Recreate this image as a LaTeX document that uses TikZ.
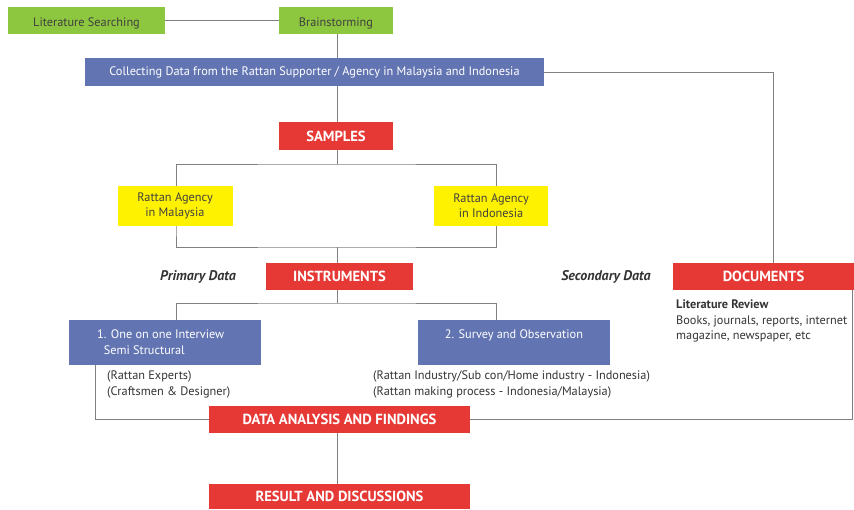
\documentclass[tikz,border=0pt]{standalone}
\usepackage{fontspec}
\setmainfont{PT Sans}
\usepackage{tikz}
\usetikzlibrary{positioning,backgrounds}
\definecolor{boxgreen}{RGB}{141,198,63}
\definecolor{boxblue}{RGB}{98,117,178}
\definecolor{boxred}{RGB}{230,57,53}
\definecolor{boxyellow}{RGB}{255,242,0}
\definecolor{linegray}{RGB}{128,128,128}

\begin{document}
\begin{tikzpicture}[x=1pt,y=-1pt,font=\fontsize{12.3}{15.3}\selectfont,
  green box/.style={fill=boxgreen,text=black!75,inner sep=0pt,text height=2.4ex,text depth=0.2ex},
  blue box/.style={fill=boxblue,text=white,inner sep=0pt},
  red box/.style={fill=boxred,text=white,font=\fontsize{14.6}{16}\selectfont\bfseries,inner sep=0pt},
  yellow box/.style={fill=boxyellow,text=black!75,inner sep=0pt,align=center},
  note/.style={text=black!80,align=left,inner sep=0pt},
  side label/.style={font=\fontsize{14}{16}\selectfont\bfseries\itshape,text=black!80},
  conn/.style={draw=linegray,line width=0.9pt}]
\useasboundingbox (0,0) rectangle (854,509);

% top row
  \node[green box,minimum width=157,minimum height=27] (litsearch) at (86.5,20.5) {Literature Searching};
  \node[green box,minimum width=114,minimum height=27] (brainstorm) at (336,20.5) {Brainstorming};
  \node[blue box,minimum width=459,minimum height=28] (collect) at (314.5,72) {Collecting Data from the Rattan Supporter / Agency in Malaysia and Indonesia};

% samples
  \node[red box,minimum width=114,minimum height=28] (samples) at (336,136) {SAMPLES};
  \node[yellow box,minimum width=115,minimum height=40] (malaysia) at (175,206) {Rattan Agency\\in Malaysia};
  \node[yellow box,minimum width=114,minimum height=40] (indonesia) at (491,206) {Rattan Agency\\in Indonesia};

% instruments and documents
  \node[red box,minimum width=147,minimum height=27] (instruments) at (339.5,276.5) {INSTRUMENTS};
  \node[red box,minimum width=181,minimum height=27] (documents) at (763.5,276.5) {DOCUMENTS};
  \node[side label] (primary) at (198,277) {Primary Data};
  \node[side label] (secondary) at (606,277) {Secondary Data};

% methods
  \node[blue box,minimum width=192,minimum height=45] (interview) at (165,342.5) {};
  \node[blue box,anchor=north west,align=left] (interviewtext) at (97,330) {1. One on one Interview\\\ \ Semi Structural};
  \node[blue box,minimum width=192,minimum height=45] (survey) at (514,342.5) {};
  \node[blue box,anchor=north] (surveytext) at (514,330) {2. Survey and Observation};
  \node[note,anchor=north west] (expertnote) at (107,371) {(Rattan Experts)\\(Craftsmen \& Designer)};
  \node[note,anchor=north west] (surveynote) at (373,371) {(Rattan Industry/Sub con/Home industry - Indonesia)\\(Rattan making process - Indonesia/Malaysia)};
  \node[note,anchor=north west] (litreview) at (676,300) {\textbf{Literature Review}\\Books, journals, reports, internet\\magazine, newspaper, etc};

% analysis
  \node[red box,minimum width=261,minimum height=27] (analysis) at (339.5,419.5) {DATA ANALYSIS AND FINDINGS};
  \node[red box,minimum width=261,minimum height=25] (result) at (339.5,496.5) {RESULT AND DISCUSSIONS};

  \coordinate (splitA) at (337,164);
  \coordinate (joinA) at (337,247);
  \coordinate (splitB) at (337,303);
  \coordinate (leftleg) at (176,0);
  \coordinate (rightleg) at (496,0);

\begin{pgfonlayer}{background}
  \path[conn]
    (litsearch) edge (brainstorm)
    (brainstorm.south -| splitA) edge (collect.north -| splitA)
    (collect.south -| splitA) edge (samples.north -| splitA)
    (samples.south -| splitA) edge (splitA)
    (joinA) edge (instruments.north -| joinA)
    (instruments.south -| splitB) edge (splitB)
    (analysis.south -| splitB) edge (result.north -| splitB);

  \draw[conn] (collect.east) -| ([xshift=10]documents.north);
  \draw[conn] (malaysia.north -| leftleg) |- (splitA) -| (indonesia.north -| rightleg);
  \draw[conn] (malaysia.north -| leftleg) -- (malaysia.south -| leftleg) |- (joinA) -| (indonesia.north -| rightleg);
  \draw[conn] (interview.north -| leftleg) |- (splitB) -| (survey.north -| rightleg);
  \draw[conn] ([xshift=-70]interview.south) |- (analysis.west);
  \draw[conn] ([xshift=-2]documents.south east) |- (analysis.east);
\end{pgfonlayer}
\end{tikzpicture}
\end{document}
